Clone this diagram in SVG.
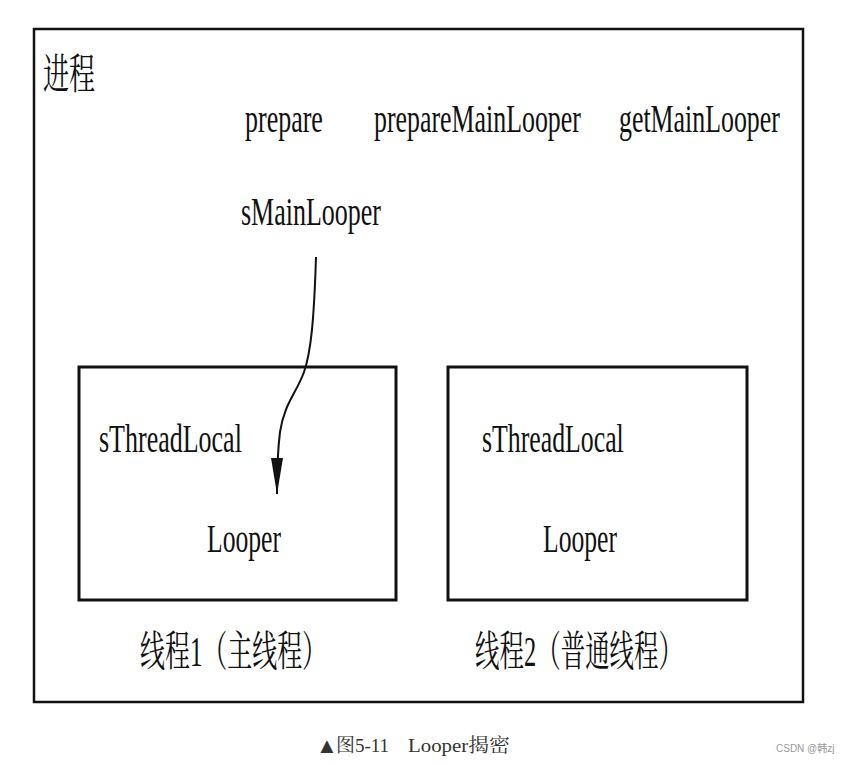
<svg xmlns="http://www.w3.org/2000/svg" width="849" height="764" viewBox="0 0 849 764">
<style>
.t{font-family:"Liberation Serif","Noto Serif CJK SC","Noto Sans CJK SC",serif;fill:#111;}
.en{font-size:40px;}
.cn{font-size:42px;}
.box{fill:none;stroke:#111;stroke-width:3;}
.cap{font-family:"Liberation Serif","Noto Serif CJK SC","Noto Sans CJK SC",serif;font-size:19px;fill:#333;}
</style>
<defs>
<marker id="ah" viewBox="0 0 36 12" refX="36" refY="6" markerWidth="36" markerHeight="12" markerUnits="userSpaceOnUse" orient="auto">
<path d="M0,0 L36,6 L0,12 Z" fill="#111"/>
</marker>
</defs>
<rect width="849" height="764" fill="#fff"/>
<g id="process">
<rect x="34" y="29" width="769" height="673" fill="none" stroke="#111" stroke-width="2.5"/>
<text class="t cn" transform="translate(43,89) scale(0.62,1)">进程</text>
<text class="t en" transform="translate(245,132) scale(0.65,1)">prepare</text>
<text class="t en" transform="translate(374,132) scale(0.647,1)">prepareMainLooper</text>
<text class="t en" transform="translate(619,132) scale(0.647,1)">getMainLooper</text>
<text class="t en" transform="translate(241,225) scale(0.65,1)">sMainLooper</text>
</g>
<g id="thread1">
<rect class="box" x="79" y="367" width="317" height="233"/>
<text class="t en" transform="translate(99,452) scale(0.65,1)">sThreadLocal</text>
<text class="t en" transform="translate(207,552) scale(0.64,1)">Looper</text>
<text class="t cn" transform="translate(140,666) scale(0.594,1)">线程1（主线程）</text>
</g>
<g id="thread2">
<rect class="box" x="448" y="367" width="299" height="233"/>
<text class="t en" transform="translate(482,452) scale(0.645,1)">sThreadLocal</text>
<text class="t en" transform="translate(543,552) scale(0.64,1)">Looper</text>
<text class="t cn" transform="translate(475,666) scale(0.583,1)">线程2（普通线程）</text>
</g>
<g id="connectors">
<path d="M316,257 C314,320 311,352 304,372 C297,392 284,404 280,432 C278,448 277,470 277,494" fill="none" stroke="#111" stroke-width="2" marker-end="url(#ah)"/>
</g>
<g id="caption">
<text class="cap" x="316" y="753" style="font-size:22px">▲</text>
<text class="cap" x="336" y="752">图5-11</text>
<text class="cap" x="408" y="752" textLength="102" lengthAdjust="spacingAndGlyphs">Looper揭密</text>
<text x="776" y="752" style="font-family:'Liberation Sans','Noto Sans CJK SC',sans-serif;font-size:10px;fill:#999">CSDN @韩zj</text>
</g>
</svg>
